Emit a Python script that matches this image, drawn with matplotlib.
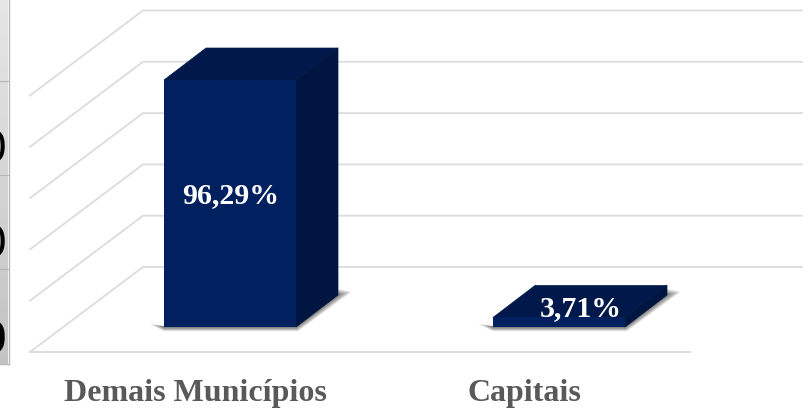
import numpy as np
import matplotlib
matplotlib.use("Agg")
import matplotlib.pyplot as plt
from matplotlib.patches import Polygon

plt.rcParams['font.family'] = ['Liberation Serif', 'DejaVu Serif']

# Data
categories = ['Demais Municípios', 'Capitais']
values = [96.29, 3.71]
value_labels = ['96,29%', '3,71%']
grid_values = [0, 20, 40, 60, 80, 100]

# Pixel layout of the picture
W, H = 808, 408
PX_Y = 2.565      # pixels per percent
PX_X = 329        # pixels between bars
BASE_Y = 327
FIRST_X = 230
BAR_W = 132 / PX_X
DX = 42 / PX_X    # depth of the bars
DY = 32 / PX_Y

FRONT = '#012060'
TOP = '#01184a'
SIDE = '#00153f'
GRID = '#dcdcdc'

fig = plt.figure(figsize=(W / 100, H / 100), dpi=100)

# background axes in pixels, for the cropped table on the left
bg = fig.add_axes([0, 0, 1, 1])
bg.set_xlim(0, W)
bg.set_ylim(H, 0)
bg.axis('off')
grad = np.linspace(0.90, 0.76, 100).reshape(-1, 1)
bg.imshow(grad, extent=(0, 8, 364, 0), cmap='gray', vmin=0, vmax=1, aspect='auto')
bg.set_xlim(0, W)
bg.set_ylim(H, 0)
bg.plot([8.5, 8.5], [0, 364], color='#b8b8b8', lw=1)
bg.plot([0, 8.5], [364, 364], color='#b8b8b8', lw=1)
for y in [81, 175, 269]:
    bg.plot([0, 8], [y, y], color='#b4b4b4', lw=0.8)
for y, w in [(150, 'normal'), (245, 'normal'), (341, 'bold')]:
    bg.text(6, y, '0', fontsize=33, ha='right', va='center', color='black',
            fontweight=w, family='Liberation Sans')

# main axes, x in category positions and y in percent
ax = fig.add_axes([0, 0, 1, 1])
ax.patch.set_alpha(0)
ax.set_xlim(-FIRST_X / PX_X, (W - FIRST_X) / PX_X)
ax.set_ylim(-(H - BASE_Y) / PX_Y, BASE_Y / PX_Y)
ax.axis('off')

# walls and floor
wall_left = (30 - FIRST_X) / PX_X
wall_back = (143 - FIRST_X) / PX_X
wall_right = (802 - FIRST_X) / PX_X
floor_right = (690 - FIRST_X) / PX_X
front_y = -25 / PX_Y
back_y = 60 / PX_Y
for g in grid_values:
    ax.plot([wall_left, wall_back, wall_right], [front_y + g, back_y + g, back_y + g],
            color=GRID, lw=1.3, solid_joinstyle='round', zorder=1)
ax.plot([wall_left, floor_right], [front_y, front_y], color=GRID, lw=1.5, zorder=1)

x_pos = np.arange(len(categories))
left = x_pos - BAR_W / 2
right = x_pos + BAR_W / 2

# soft shadow on the floor, built from stacked see-through layers
for x0, x1 in zip(left, right):
    for k in range(7):
        grow = (7 - k) * 1.5
        gx = grow / PX_X
        gy = grow / PX_Y
        pts = [(x0 - 1.4 * gx, 0.3 * gy), (x0, -0.4 * gy), (x1 + 0.2 * gx, -0.4 * gy),
               (x1 + DX + 1.3 * gx, DY + 0.3 * gy), (x1 + DX, DY + 0.6 * gy),
               (x1, 1 / PX_Y), (x0, 1 / PX_Y)]
        ax.add_patch(Polygon(pts, closed=True, fc='black', ec='none', alpha=0.09, zorder=2))

# bars: front face from the axes scale, top and side from the same values
ax.bar(x_pos, values, width=BAR_W, color=FRONT, zorder=4)
for x0, x1, v in zip(left, right, values):
    ax.add_patch(Polygon([(x0, v), (x1, v), (x1 + DX, v + DY), (x0 + DX, v + DY)],
                         closed=True, fc=TOP, ec=TOP, lw=0.5, joinstyle='round', zorder=3))
    ax.add_patch(Polygon([(x1, 0), (x1 + DX, DY), (x1 + DX, v + DY), (x1, v)],
                         closed=True, fc=SIDE, ec=SIDE, lw=0.5, joinstyle='round', zorder=3))

# value labels
label_x = [0 + 1 / PX_X, 1 + 22 / PX_X]
label_y = [(BASE_Y - 196) / PX_Y, (BASE_Y - 309) / PX_Y]
for lx, ly, s in zip(label_x, label_y, value_labels):
    ax.text(lx, ly, s, color='white', fontsize=21.5, fontweight='bold',
            ha='center', va='center', zorder=6)

# category labels
for i, c in enumerate(categories):
    ax.text(i - 35 / PX_X, (BASE_Y - 394) / PX_Y, c, color='#595959', fontsize=23,
            fontweight='bold', ha='center', va='center', zorder=6)

fig.savefig('out.png', dpi=100)
